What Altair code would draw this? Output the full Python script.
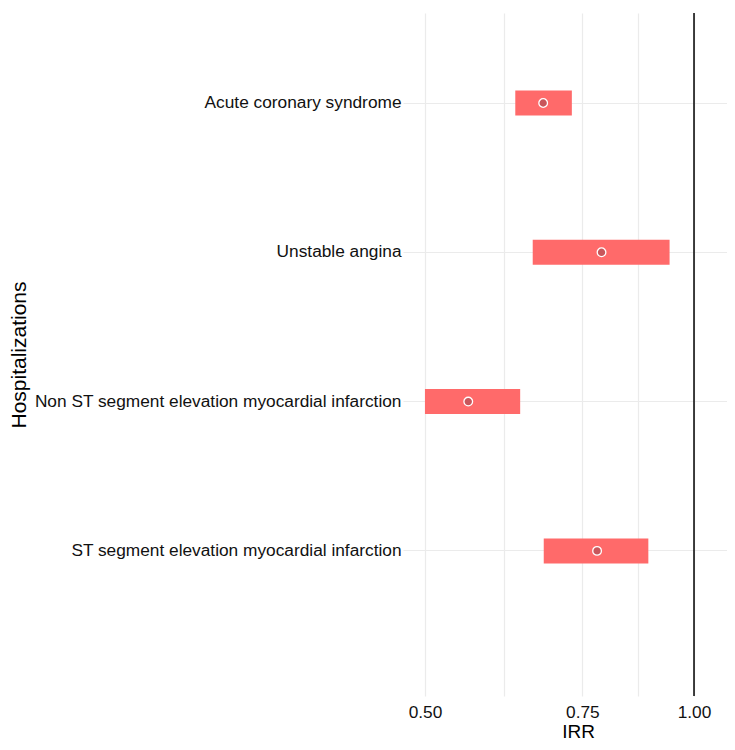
import altair as alt
import pandas as pd

outcomes = [
    "Acute coronary syndrome",
    "Unstable angina",
    "Non ST segment elevation myocardial infarction",
    "ST segment elevation myocardial infarction",
]
irr = [0.678, 0.788, 0.559, 0.779]
lower = [0.631, 0.660, 0.500, 0.679]
upper = [0.730, 0.939, 0.639, 0.889]
major_breaks = [0.50, 0.75, 1.00]
minor_breaks = [0.6124, 0.8660]
reference = [1.0]

df = pd.DataFrame({"outcome": outcomes, "irr": irr, "lower": lower, "upper": upper})
ref_df = pd.DataFrame({"ref": reference})

FONT = "Liberation Sans"
label_expr = (
    "indexof([" + ",".join(str(v) for v in major_breaks) + "], datum.value) >= 0"
    " ? format(datum.value, '.2f') : ''"
)

xscale = alt.Scale(type="log", domain=[0.4725, 1.0887], nice=False)
yscale = alt.Scale(domain=outcomes, paddingInner=0, paddingOuter=0.2875, align=0.179)

xaxis = alt.Axis(
    title="IRR",
    values=major_breaks + minor_breaks,
    labelExpr=label_expr,
    ticks=False,
    domain=False,
    grid=True,
    gridColor="#EBEBEB",
    gridWidth=1.2,
    labelFontSize=17.3,
    labelColor="#111111",
    labelPadding=7,
    labelFont=FONT,
    titleFont=FONT,
    titleFontSize=19,
    titleFontWeight="normal",
    titleColor="#000000",
    titleX=175,
    titleY=26,
    titleBaseline="top",
)

yaxis = alt.Axis(
    title="Hospitalizations",
    ticks=False,
    domain=False,
    grid=True,
    bandPosition=0.5,
    gridColor="#EBEBEB",
    gridWidth=1.2,
    labelFontSize=17.3,
    labelColor="#111111",
    labelPadding=2,
    labelFont=FONT,
    labelLimit=500,
    titleFont=FONT,
    titleFontSize=21,
    titleFontWeight="normal",
    titleColor="#000000",
    titleX=-383.5,
    titleBaseline="middle",
)

bars = alt.Chart(df).mark_bar(color="#FF6A6A", size=25).encode(
    x=alt.X("lower:Q", scale=xscale, axis=xaxis),
    x2="upper:Q",
    y=alt.Y("outcome:N", scale=yscale, axis=yaxis, sort=outcomes),
)

points = alt.Chart(df).mark_point(
    filled=True, fill="#C8565B", stroke="white", strokeWidth=1.3, size=75, opacity=1
).encode(
    x=alt.X("irr:Q", scale=xscale),
    y=alt.Y("outcome:N", scale=yscale, sort=outcomes),
)

rule = alt.Chart(ref_df).mark_rule(color="black", strokeWidth=1.5).encode(
    x=alt.X("ref:Q", scale=xscale)
)

chart = (
    alt.layer(bars, points, rule)
    .properties(
        width=324,
        height=683,
        autosize=alt.AutoSizeParams(type="none"),
        padding={"left": 395, "top": 5, "right": 0, "bottom": 46},
    )
    .configure(font=FONT)
    .configure_view(stroke=None)
)

chart.save("out.html", embed_options={"renderer": "svg", "actions": False})
